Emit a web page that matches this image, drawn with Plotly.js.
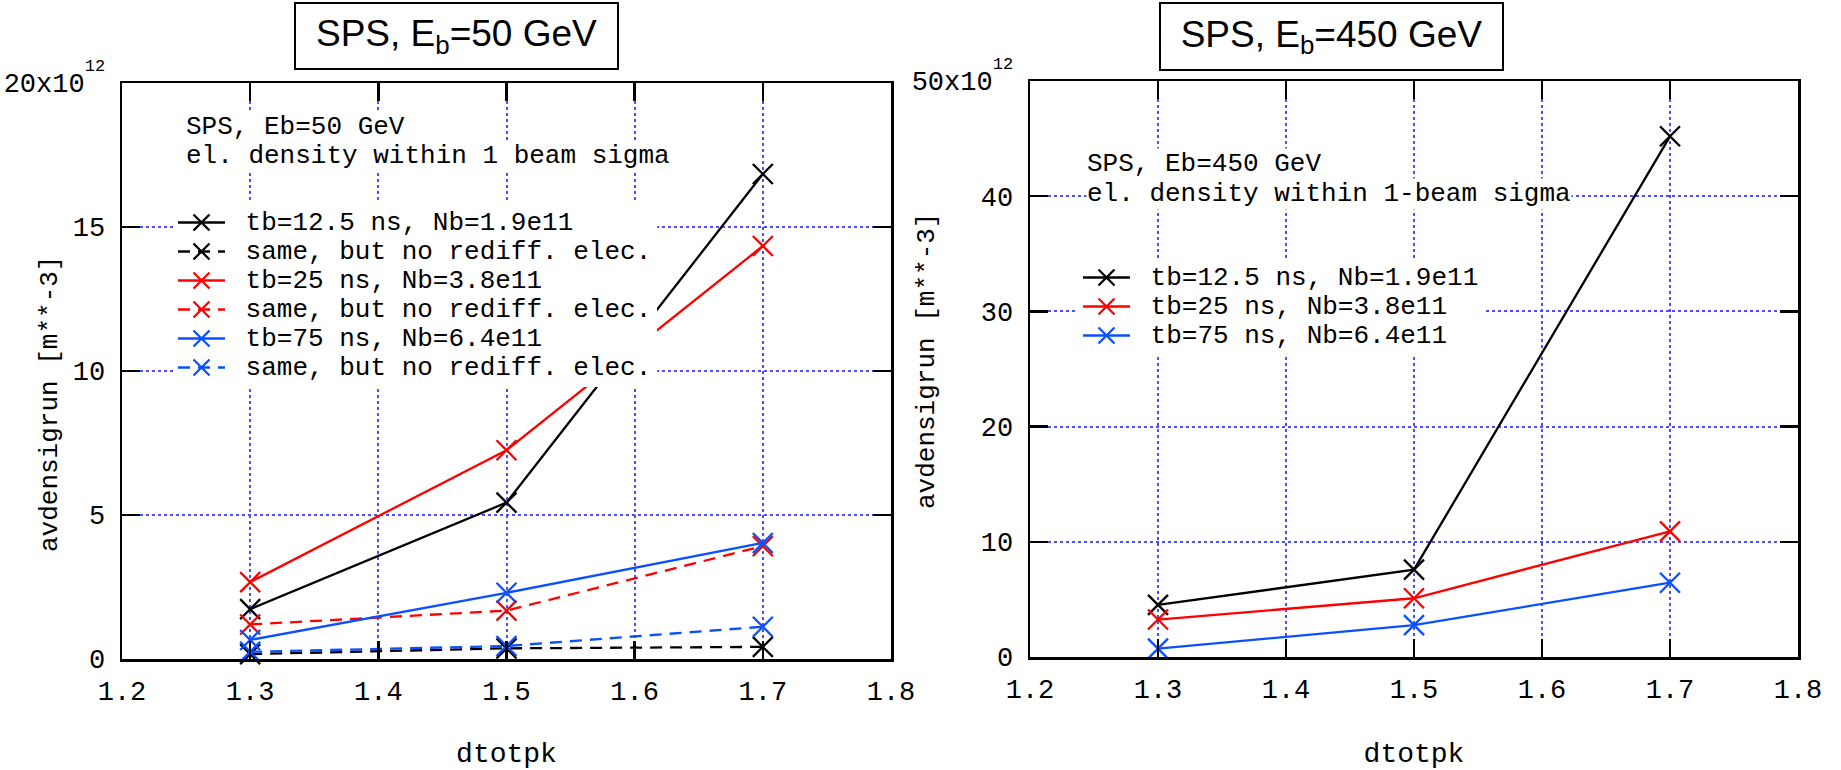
<!DOCTYPE html>
<html><head><meta charset="utf-8">
<script src="https://cdn.plot.ly/plotly-3.0.1.min.js"></script>
<style>html,body{margin:0;padding:0;background:#fff;}#chart{width:1841px;height:770px;}</style>
</head><body><div id="chart"></div>
<script>
const W = 1841, H = 770;
const MONO = 'Liberation Mono, Courier New, monospace';
const SANS = 'Liberation Sans, Arial, sans-serif';

// x values (dtotpk)
const dtotpk = [1.3, 1.5, 1.7];

// SPS, Eb = 50 GeV  (avdensigrun, units of 1e12 m^-3)
const eb50_tb12_5 = [1.73, 5.43, 16.84];
const eb50_tb12_5_noRediff = [0.17, 0.37, 0.42];
const eb50_tb25 = [2.67, 7.25, 14.34];
const eb50_tb25_noRediff = [1.20, 1.68, 3.92];
const eb50_tb75 = [0.66, 2.30, 4.03];
const eb50_tb75_noRediff = [0.25, 0.45, 1.12];

// SPS, Eb = 450 GeV (units of 1e12 m^-3)
const eb450_tb12_5 = [4.52, 7.58, 45.2];
const eb450_tb25 = [3.25, 5.10, 10.9];
const eb450_tb75 = [0.73, 2.77, 6.45];

// series names
const nTb12_5 = 'tb=12.5 ns, Nb=1.9e11';
const nTb25 = 'tb=25 ns, Nb=3.8e11';
const nTb75 = 'tb=75 ns, Nb=6.4e11';
const nNoRediff = 'same, but no rediff. elec.';

// ticks
const SUP12 = '<span style="font-size:17px;baseline-shift:21px">12</span>';
const xTicks = [1.2, 1.3, 1.4, 1.5, 1.6, 1.7, 1.8];
const xTickText = ['1.2', '1.3', '1.4', '1.5', '1.6', '1.7', '1.8'];
const yTicks50 = [0, 5, 10, 15, 20];
const yTickText50 = ['0', '5', '10', '15', '20x10' + SUP12];
const yTicks450 = [0, 10, 20, 30, 40, 50];
const yTickText450 = ['0', '10', '20', '30', '40', '50x10' + SUP12];

const BLACK = '#000000', RED = '#ff0000', BLUE = '#0a50ff';
const GRID = '#4d4dff';

function lg(t) { return '<span style="font-size:26px">\u00a0' + t + '</span>'; }
function tr(y, color, dash, name, xa, ya, legend) {
  return {
    x: dtotpk, y: y, type: 'scatter', mode: 'lines+markers', name: lg(name),
    xaxis: xa, yaxis: ya, legend: legend, cliponaxis: false,
    line: {color: color, width: 2.3, dash: dash},
    marker: {symbol: 'x-thin-open', size: 20, color: color, line: {color: color, width: 2.3}}
  };
}
const DASH = '12px,8px';
const data = [
  tr(eb50_tb12_5, BLACK, 'solid', nTb12_5, 'x', 'y', 'legend'),
  tr(eb50_tb12_5_noRediff, BLACK, DASH, nNoRediff, 'x', 'y', 'legend'),
  tr(eb50_tb25, RED, 'solid', nTb25, 'x', 'y', 'legend'),
  tr(eb50_tb25_noRediff, RED, DASH, nNoRediff, 'x', 'y', 'legend'),
  tr(eb50_tb75, BLUE, 'solid', nTb75, 'x', 'y', 'legend'),
  tr(eb50_tb75_noRediff, BLUE, DASH, nNoRediff, 'x', 'y', 'legend'),
  tr(eb450_tb12_5, BLACK, 'solid', nTb12_5, 'x2', 'y2', 'legend2'),
  tr(eb450_tb25, RED, 'solid', nTb25, 'x2', 'y2', 'legend2'),
  tr(eb450_tb75, BLUE, 'solid', nTb75, 'x2', 'y2', 'legend2')
];

// panel frames in pixels
const PL = {x0: 122, x1: 891, y0: 83, y1: 659};
const PR = {x0: 1030, x1: 1798, y0: 81, y1: 657};
const px = v => v / W, py = v => 1 - v / H;

function xAxis(p, anchor) {
  return {
    domain: [px(p.x0), px(p.x1)], anchor: anchor, range: [1.2, 1.8],
    tickmode: 'array', tickvals: xTicks, ticktext: xTickText,
    ticks: 'inside', ticklen: 18, tickwidth: 2.5, tickcolor: '#000',
    showline: true, linewidth: 2.5, linecolor: '#000', mirror: 'ticks',
    showgrid: true, gridcolor: GRID, griddash: 'dot', gridwidth: 2, zeroline: false,
    tickfont: {family: MONO, size: 27, color: '#000'}, ticklabelstandoff: 6,
    automargin: false, fixedrange: true,
    title: {text: 'dtotpk', font: {family: MONO, size: 28, color: '#000'}, standoff: 40}
  };
}
function yAxis(p, anchor, max, tv, tt) {
  return {
    domain: [py(p.y1), py(p.y0)], anchor: anchor, range: [0, max],
    tickmode: 'array', tickvals: tv, ticktext: tt,
    ticks: 'inside', ticklen: 18, tickwidth: 2.5, tickcolor: '#000',
    showline: true, linewidth: 2.5, linecolor: '#000', mirror: 'ticks',
    showgrid: true, gridcolor: GRID, griddash: 'dot', gridwidth: 2, zeroline: false,
    tickfont: {family: MONO, size: 27, color: '#000'}, ticklabelstandoff: 9,
    automargin: false, fixedrange: true
  };
}

function txt(t, x, y, size) {
  return {text: t, xref: 'paper', yref: 'paper', x: px(x), y: py(y), xanchor: 'left', yanchor: 'middle',
    showarrow: false, bgcolor: '#fff', borderpad: 0, font: {family: MONO, size: size || 26, color: '#000'}};
}
function titleBox(t, x, y, w, h) {
  return {text: t, xref: 'paper', yref: 'paper', x: px(x), y: py(y), xanchor: 'center', yanchor: 'middle',
    showarrow: false, bgcolor: '#fff', bordercolor: '#000', borderwidth: 2, borderpad: 2,
    width: w, height: h, align: 'center', valign: 'middle',
    font: {family: SANS, size: 37, color: '#000'}};
}
function yTitle(t, x, y) {
  return {text: t, xref: 'paper', yref: 'paper', x: px(x), y: py(y), xanchor: 'center', yanchor: 'middle',
    textangle: -90, showarrow: false, font: {family: MONO, size: 26, color: '#000'}};
}

const layout = {
  width: W, height: H, margin: {l: 0, r: 0, t: 0, b: 0},
  paper_bgcolor: '#fff', plot_bgcolor: '#fff', showlegend: true,
  xaxis: xAxis(PL, 'y'), yaxis: yAxis(PL, 'x', 20, yTicks50, yTickText50),
  xaxis2: xAxis(PR, 'y2'), yaxis2: yAxis(PR, 'x2', 50, yTicks450, yTickText450),
  legend: {x: px(173), y: py(203), xanchor: 'left', yanchor: 'top', bgcolor: '#fff', borderwidth: 0,
    itemwidth: 47, tracegroupgap: 0, font: {family: MONO, size: 20, color: '#000'}},
  legend2: {x: px(1078), y: py(258), xanchor: 'left', yanchor: 'top', bgcolor: '#fff', borderwidth: 0,
    itemwidth: 47, tracegroupgap: 0, font: {family: MONO, size: 20, color: '#000'}},
  annotations: [
    titleBox('SPS, E<sub>b</sub>=50 GeV', 456.5, 36, 317, 60),
    titleBox('SPS, E<sub>b</sub>=450 GeV', 1331.5, 37, 337, 61),
    txt('SPS, Eb=50 GeV', 185, 127),
    txt('el. density within 1 beam sigma', 185, 156),
    txt('SPS, Eb=450 GeV', 1086, 164),
    txt('el. density within 1-beam sigma', 1086, 194),
    yTitle('avdensigrun [m**-3]', 50, 404),
    yTitle('avdensigrun [m**-3]', 927, 361)
  ]
};

Plotly.newPlot('chart', data, layout, {displayModeBar: false, staticPlot: true});
</script></body></html>
